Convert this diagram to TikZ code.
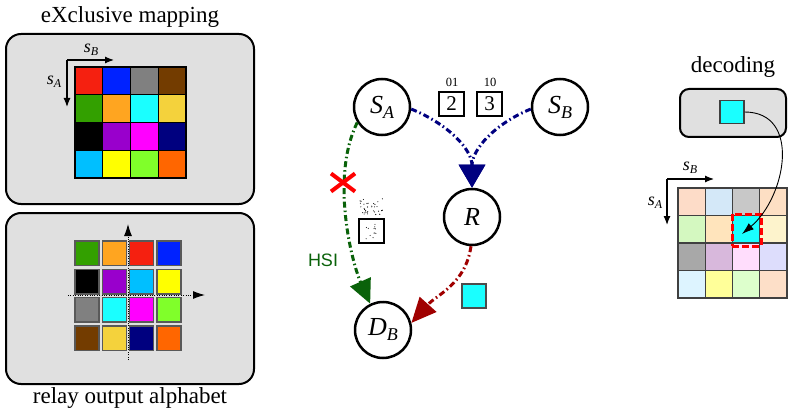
\documentclass[tikz,border=0pt]{standalone}
\usepackage{fontspec}
\setmainfont{Liberation Serif}
\newfontfamily\hsifont{Liberation Sans}
\usetikzlibrary{arrows.meta,calc}
\definecolor{cRed}{HTML}{F52010}
\definecolor{cBlue}{HTML}{0022FF}
\definecolor{cGray}{HTML}{808080}
\definecolor{cBrown}{HTML}{733C00}
\definecolor{cGreen}{HTML}{33A000}
\definecolor{cOrange}{HTML}{FFA520}
\definecolor{cCyan}{HTML}{1AFFFF}
\definecolor{cGold}{HTML}{F4D23C}
\definecolor{cBlack}{HTML}{000000}
\definecolor{cPurple}{HTML}{9900CC}
\definecolor{cMagenta}{HTML}{FF00FF}
\definecolor{cNavy}{HTML}{00007F}
\definecolor{cSky}{HTML}{00BFFF}
\definecolor{cYellow}{HTML}{FFFF00}
\definecolor{cLime}{HTML}{80FF2A}
\definecolor{cOrRed}{HTML}{FF6600}
\definecolor{panel}{HTML}{E0E0E0}
\definecolor{hsigreen}{HTML}{0A620A}
\definecolor{dred}{HTML}{A00000}
\definecolor{navyline}{HTML}{000080}
\definecolor{p1}{HTML}{FDDCC8}
\definecolor{p2}{HTML}{D4E8F8}
\definecolor{p3}{HTML}{C8C8C8}
\definecolor{p4}{HTML}{FDDFC4}
\definecolor{p5}{HTML}{D4F8C0}
\definecolor{p6}{HTML}{FFE4BC}
\definecolor{p7}{HTML}{1AFFFF}
\definecolor{p8}{HTML}{FDF3CC}
\definecolor{p9}{HTML}{A8A8A8}
\definecolor{p10}{HTML}{D8B8DC}
\definecolor{p11}{HTML}{FFDDFC}
\definecolor{p12}{HTML}{DDDDFC}
\definecolor{p13}{HTML}{DDF4FF}
\definecolor{p14}{HTML}{FFFF99}
\definecolor{p15}{HTML}{DDFFCC}
\definecolor{p16}{HTML}{FDDFC8}
\newcommand\slabel[5]{\fontsize{#3}{#3}\selectfont\itshape #1\raisebox{-#5}{\fontsize{#4}{#4}\selectfont #2}}
\tikzset{
  panelbox/.style={draw=black, line width=2pt, fill=panel, rounded corners=15pt, inner sep=0pt},
  topcell/.style={draw=black, line width=1.2pt, minimum size=27.75pt, inner sep=0pt},
  botcell/.style={draw=black!65, line width=1.4pt, minimum width=24pt, minimum height=24.5pt, inner sep=0pt},
  deccell/.style={draw=black!75, line width=1.1pt, minimum width=27.25pt, minimum height=27.5pt, inner sep=0pt},
  bigtitle/.style={font=\fontsize{23}{26}\selectfont, inner sep=0pt},
  axisarrow/.style={line width=1.2pt, -{Latex[length=9pt,width=7pt]}},
  dotaxis/.style={line width=1pt, dash pattern=on 1pt off 1.4pt, -{Latex[length=12pt,width=8pt]}},
  stnode/.style={circle, draw=black, line width=2.5pt, minimum size=56pt, inner sep=0pt, fill=white},
  symbox/.style={draw=black, line width=1.2pt, minimum width=25pt, minimum height=24pt, inner sep=0pt, fill=white, font=\fontsize{21}{21}\selectfont},
  smalltxt/.style={font=\fontsize{12.5}{12.5}\selectfont, inner sep=0pt},
  dashdot/.style={line width=3pt, dash pattern=on 6pt off 3pt on 1.5pt off 3pt},
}
\begin{document}
\begin{tikzpicture}[x=1pt,y=1pt]
\useasboundingbox (0,0) rectangle (795,413);

% ---------- left top panel ----------
\node[bigtitle] (ttl) at (130,396) {eXclusive mapping};
\node[panelbox, minimum width=248pt, minimum height=170pt] (ptop) at (130,294) {};
\foreach \c [count=\k from 0] in {cRed,cBlue,cGray,cBrown,cGreen,cOrange,cCyan,cGold,cBlack,cPurple,cMagenta,cNavy,cSky,cYellow,cLime,cOrRed}{
  \pgfmathtruncatemacro\row{div(\k,4)}
  \pgfmathtruncatemacro\col{mod(\k,4)}
  \node[topcell, fill=\c] (t\k) at ({75+13.875+27.75*\col},{346-13.875-27.75*\row}) {};
}
\coordinate (tO) at (67,353);
\coordinate (tB) at (114,353);
\coordinate (tA) at (67,306);
\draw[axisarrow] (tO) -- (tB);
\draw[axisarrow] (tO) -- (tA);
\node (tsB) at (91,363) {\slabel{s}{B}{18}{12}{3pt}};
\node (tsA) at (54,331) {\slabel{s}{A}{18}{12}{3pt}};

% ---------- left bottom panel ----------
\node[panelbox, minimum width=248pt, minimum height=171pt] (pbot) at (130,114.5) {};
\node[bigtitle] (btl) at (130,15) {relay output alphabet};
\foreach \c [count=\k from 0] in {cGreen,cOrange,cRed,cBlue,cBlack,cPurple,cSky,cYellow,cGray,cCyan,cMagenta,cLime,cBrown,cGold,cNavy,cOrRed}{
  \pgfmathtruncatemacro\row{div(\k,4)}
  \pgfmathtruncatemacro\col{mod(\k,4)}
  \node[botcell, fill=\c] (b\k) at ({75+12+27.3*\col},{172-12.25-28.3*\row}) {};
}
\coordinate (bv0) at (128,53);
\coordinate (bv1) at (128,189);
\coordinate (bh0) at (68,118);
\coordinate (bh1) at (205,118);
\draw[dotaxis] (bv0) -- (bv1);
\draw[dotaxis] (bh0) -- (bh1);

% ---------- middle graph ----------
\node[stnode] (SA) at (382,306) {\slabel{S}{A}{26}{18}{5pt}};
\node[stnode] (SB) at (560,306) {\slabel{S}{B}{26}{18}{5pt}};
\node[stnode] (R) at (472,196) {\fontsize{26}{26}\selectfont\itshape R};
\node[stnode] (DB) at (383,83) {\slabel{D}{B}{26}{18}{5pt}};

\node[symbox] (b2) at (451.5,309) {2};
\node[symbox] (b3) at (489.5,309) {3};
\node[smalltxt] (l01) at (452,331) {01};
\node[smalltxt] (l10) at (490,331) {10};

\draw[dashdot, draw=navyline, -{Triangle[length=23pt,width=26pt]}] (SA.-4) to[out=-22,in=90] (R.north);
\draw[dashdot, draw=navyline, -{Triangle[length=23pt,width=26pt]}] (SB.184) to[out=202,in=90] (R.north);

\draw[dashdot, draw=hsigreen, -{Triangle[length=24pt,width=22pt]}] (SA.212) .. controls (330,235) and (352,150) .. (DB.116);
\draw[dashdot, draw=dred, -{Triangle[length=25pt,width=22pt]}] (R.268) to[out=262,in=48] (DB.14);

\node[font=\hsifont\fontsize{18}{18}\selectfont, text=hsigreen, inner sep=0pt] (hsi) at (323,153) {HSI};

% red cross
\coordinate (xc) at (343,230.5);
\draw[red, line width=4pt] ($(xc)+(-12,-9)$) -- ($(xc)+(12,9)$);
\draw[red, line width=4pt] ($(xc)+(-12,9)$) -- ($(xc)+(12,-9)$);

% noisy symbol
\node[symbox] (bq) at (371.5,182) {};
\pgfmathsetseed{11}
\foreach \i in {1,...,34}{
  \fill[black] ({360+23*rnd},{198+17*rnd}) circle (0.55pt);
}
\foreach \i in {1,...,12}{
  \fill[black] ({366+11*rnd},{174+15*rnd}) circle (0.55pt);
}

% cyan symbol
\node[draw=black!70, line width=1.2pt, fill=cCyan, minimum size=24pt, inner sep=0pt] (cy) at (474,117) {};

% ---------- right: decoding ----------
\node[bigtitle] (dtl) at (733,346) {decoding};
\node[panelbox, rounded corners=9pt, minimum width=106pt, minimum height=48pt] (pdec) at (733,300) {};
\node[draw=black!75, line width=1.1pt, fill=cCyan, minimum width=24pt, minimum height=23pt, inner sep=0pt] (dcy) at (732,301) {};
\foreach \c [count=\k from 0] in {p1,p2,p3,p4,p5,p6,p7,p8,p9,p10,p11,p12,p13,p14,p15,p16}{
  \pgfmathtruncatemacro\row{div(\k,4)}
  \pgfmathtruncatemacro\col{mod(\k,4)}
  \node[deccell, fill=\c] (d\k) at ({678+13.625+27.25*\col},{225-13.75-27.5*\row}) {};
}
\node[draw=red, line width=3pt, dash pattern=on 7pt off 3pt, minimum width=29pt, minimum height=32pt, inner sep=0pt] (sel) at (746.5,183) {};
\coordinate (seltip) at (742,179);
\draw[line width=0.9pt, -{Latex[length=12pt,width=8pt]}] (dcy.east) to[out=0,in=40,looseness=1.2] (seltip);
\coordinate (dO) at (667,234);
\coordinate (dB) at (714,234);
\coordinate (dA) at (667,188);
\draw[axisarrow] (dO) -- (dB);
\draw[axisarrow] (dO) -- (dA);
\node (dsB) at (690,245) {\slabel{s}{B}{18}{12}{3pt}};
\node (dsA) at (655,210) {\slabel{s}{A}{18}{12}{3pt}};
\end{tikzpicture}
\end{document}
